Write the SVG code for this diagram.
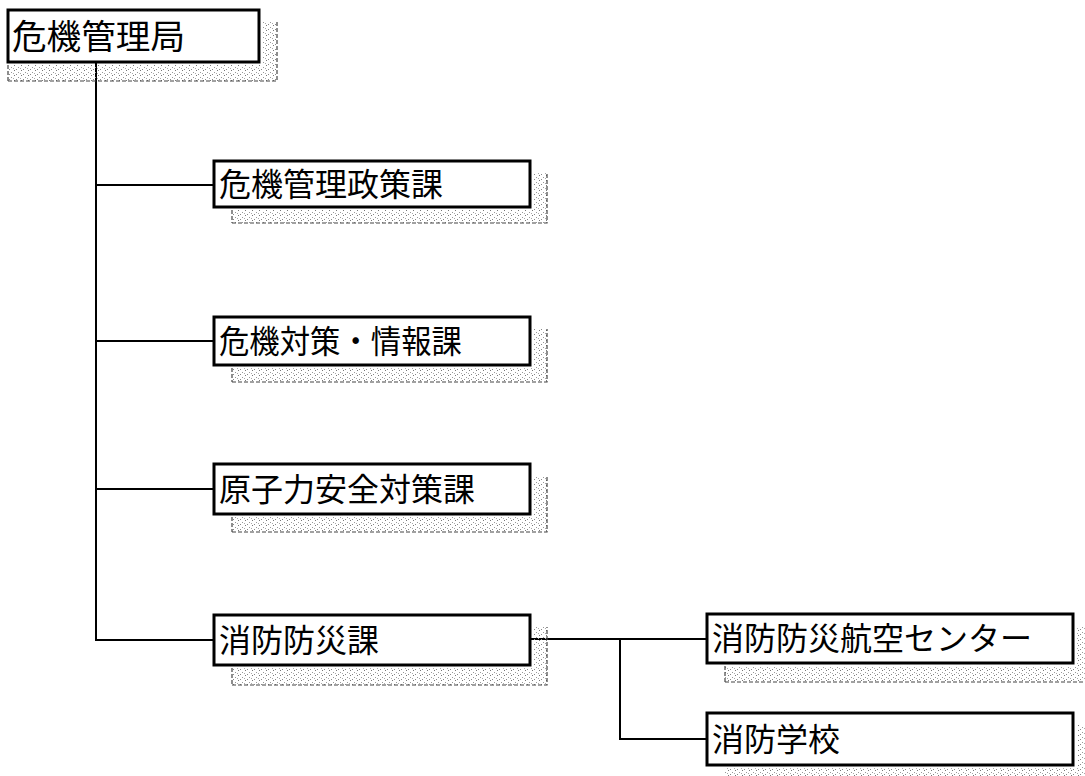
<svg xmlns="http://www.w3.org/2000/svg" width="1085" height="776" viewBox="0 0 1085 776">
<defs>
<pattern id="stip" width="7" height="5" patternUnits="userSpaceOnUse">
<rect x="0" y="0" width="1" height="1" fill="#777"/>
<rect x="4" y="2" width="1" height="1" fill="#999"/>
<rect x="2" y="4" width="1" height="1" fill="#888"/>
<rect x="6" y="3" width="1" height="1" fill="#aaa"/>
</pattern>
<style>
.box{fill:#fff;stroke:#000;stroke-width:3}
.sh{fill:url(#stip);stroke:none}
.she{fill:none;stroke:#444;stroke-width:1.2;stroke-dasharray:4 2}
.lbl{font-family:"Noto Sans CJK JP","Noto Sans CJK SC",sans-serif;font-size:32px;fill:#000}
.ln{fill:none;stroke:#000;stroke-width:2}
</style>
</defs>
<rect width="1085" height="776" fill="#fff"/>
<g id="connectors">
<path class="ln" d="M96 62 V641 M96 185 H214 M96 341 H214 M96 489 H214 M96 640 H214"/>
<path class="ln" d="M530 639 H707 M620 639 V739 H707"/>
</g>
<g id="n1">
<path class="sh" d="M262 22 H277 V81 H8 V65 H262 Z"/>
<path class="she" d="M8 81 H277 V22 M8 65 V81"/>
<rect class="box" x="8" y="10" width="251" height="52"/>
<text class="lbl" x="12" y="49" style="font-size:34px" textLength="173" lengthAdjust="spacingAndGlyphs">危機管理局</text>
</g>
<g id="n2">
<path class="sh" d="M533 173 H547 V223 H232 V210 H533 Z"/>
<path class="she" d="M232 223 H547 V173 M232 210 V223"/>
<rect class="box" x="214" y="161" width="316" height="46"/>
<text class="lbl" x="219" y="196">危機管理政策課</text>
</g>
<g id="n3">
<path class="sh" d="M533 329 H547 V382 H232 V368 H533 Z"/>
<path class="she" d="M232 382 H547 V329 M232 368 V382"/>
<rect class="box" x="214" y="317" width="316" height="48"/>
<text class="lbl" x="219" y="353" textLength="243" lengthAdjust="spacingAndGlyphs">危機対策・情報課</text>
</g>
<g id="n4">
<path class="sh" d="M533 476 H547 V532 H232 V517 H533 Z"/>
<path class="she" d="M232 532 H547 V476 M232 517 V532"/>
<rect class="box" x="214" y="464" width="316" height="50"/>
<text class="lbl" x="219" y="501">原子力安全対策課</text>
</g>
<g id="n5">
<path class="sh" d="M533 627 H547 V685 H232 V668 H533 Z"/>
<path class="she" d="M232 685 H547 V627 M232 668 V685"/>
<rect class="box" x="214" y="615" width="316" height="50"/>
<text class="lbl" x="219" y="652">消防防災課</text>
</g>
<g id="n6">
<path class="sh" d="M1076 626 H1085 V682 H725 V666 H1076 Z"/>
<path class="she" d="M725 682 H1085 M725 666 V682"/>
<rect class="box" x="707" y="614" width="366" height="49"/>
<text class="lbl" x="712" y="650">消防防災航空センター</text>
</g>
<g id="n7">
<path class="sh" d="M1078 725 H1085 V776 H725 V768 H1078 Z"/>
<rect class="box" x="707" y="713" width="366" height="52"/>
<text class="lbl" x="712" y="751">消防学校</text>
</g>
</svg>
